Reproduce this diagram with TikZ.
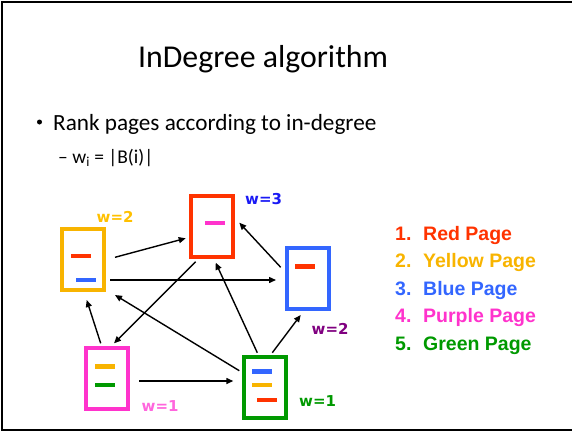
\documentclass[tikz,border=0pt]{standalone}
\usepackage{fontspec}
\setmainfont{Carlito}
\newfontfamily\arialb{Liberation Sans}[BoldFont=* Bold]
\newfontfamily\verdb{DejaVu Sans}[BoldFont=* Bold]
\usetikzlibrary{arrows.meta}
\definecolor{cred}{HTML}{FF3300}
\definecolor{cyel}{HTML}{F8B400}
\definecolor{cblue}{HTML}{3366FF}
\definecolor{cpink}{HTML}{FF33CC}
\definecolor{cgreen}{HTML}{009900}
\definecolor{lyel}{HTML}{FFC000}
\definecolor{lblue}{HTML}{1A1AF5}
\definecolor{lpurp}{HTML}{800080}
\definecolor{lpink}{HTML}{FF66DD}
\tikzset{
  page/.style={draw=#1, line width=4pt, minimum width=42pt, minimum height=61pt, inner sep=0pt, fill=white},
  bar/.style={fill=#1, minimum width=20pt, minimum height=4.5pt, inner sep=0pt},
  arr/.style={line width=1.4pt, -{Triangle[length=7pt,width=6pt]}},
  wlab/.style={text=#1, anchor=base west, inner sep=0pt, font=\verdb\bfseries\fontsize{15}{15}\selectfont},
  leg/.style={text=#1, anchor=base west, inner sep=0pt, font=\arialb\bfseries\fontsize{19.5}{20}\selectfont},
  txt/.style={anchor=base west, inner sep=0pt}
}
\begin{document}
\begin{tikzpicture}[x=1pt,y=-1pt]
\useasboundingbox (0,0) rectangle (572,431);
\draw[line width=2pt] (573,2) coordinate (f1) -- (2,2) coordinate (f2) -- (2,429.5) coordinate (f3) -- (573,429.5) coordinate (f4);
% texts
\node[txt, font=\fontsize{31.8}{34}\selectfont] (title) at (138,67.7) {InDegree algorithm};
\node[circle, fill=black, inner sep=0pt, minimum size=5pt] (bul) at (39.5,122) {};
\node[txt, font=\fontsize{23.2}{26}\selectfont] (b1) at (53,130) {Rank pages according to in-degree};
\node[txt, font=\fontsize{19.5}{22}\selectfont] (b2) at (58,163) {– w\textsubscript{i} = |B(i)|};
% pages
\node[page=cyel] (Y) at (83.3,259.2) {};
\node[page=cred] (R) at (212,226) {};
\node[page=cblue] (B) at (307.8,278) {};
\node[page=cpink] (P) at (107,378.3) {};
\node[page=cgreen] (G) at (264.8,387.5) {};
% bars
\node[bar=cred] (y1) at (81,256) {};
\node[bar=cblue] (y2) at (86,280) {};
\node[bar=cpink] (r1) at (214.5,223) {};
\node[bar=cred] (bl1) at (305,266.7) {};
\node[bar=cyel] (p1) at (105,366.7) {};
\node[bar=cgreen] (p2) at (105,385) {};
\node[bar=cblue] (g1) at (262,371.7) {};
\node[bar=cyel] (g2) at (262,385) {};
\node[bar=cred] (g3) at (267,400) {};
% arrows
\draw[arr] ([shift={(31.7,-1.9)}]Y.center) -- ([shift={(-26.3,12.3)}]R.center);
\draw[arr] ([shift={(26.7,20.8)}]Y.center) -- ([shift={(-31.8,2)}]B.center);
\draw[arr] ([shift={(-16.3,35.7)}]R.center) -- ([shift={(7,-35)}]P.center);
\draw[arr] ([shift={(-27.1,-10.7)}]B.center) -- ([shift={(27.3,-3.3)}]R.center);
\draw[arr] ([shift={(-25.5,-16.8)}]G.center) -- ([shift={(31.7,35.8)}]Y.center);
\draw[arr] ([shift={(-7.5,-34.8)}]G.center) -- ([shift={(3.7,36.7)}]R.center);
\draw[arr] ([shift={(7.5,-34.8)}]G.center) -- ([shift={(-7.1,37)}]B.center);
\draw[arr] ([shift={(-6.3,-35)}]P.center) -- ([shift={(3.4,40.8)}]Y.center);
\draw[arr] ([shift={(32,2.7)}]P.center) -- ([shift={(-31.5,-6.5)}]G.center);
% w labels
\node[wlab=lyel] (wy) at (96.5,222) {w=2};
\node[wlab=lblue] (wr) at (245,204) {w=3};
\node[wlab=lpurp] (wb) at (311.5,334) {w=2};
\node[wlab=lpink] (wp) at (141.5,411.5) {w=1};
\node[wlab=cgreen] (wg) at (299,406.5) {w=1};
% legend
\node[leg=cred] (n1) at (395,240) {1.};
\node[leg=cred] (l1) at (423,240) {Red Page};
\node[leg=cyel] (n2) at (395,267) {2.};
\node[leg=cyel] (l2) at (423,267) {Yellow Page};
\node[leg=cblue] (n3) at (395,295) {3.};
\node[leg=cblue] (l3) at (423,295) {Blue Page};
\node[leg=cpink] (n4) at (395,322) {4.};
\node[leg=cpink] (l4) at (423,322) {Purple Page};
\node[leg=cgreen] (n5) at (395,350) {5.};
\node[leg=cgreen] (l5) at (423,350) {Green Page};
\end{tikzpicture}
\end{document}
